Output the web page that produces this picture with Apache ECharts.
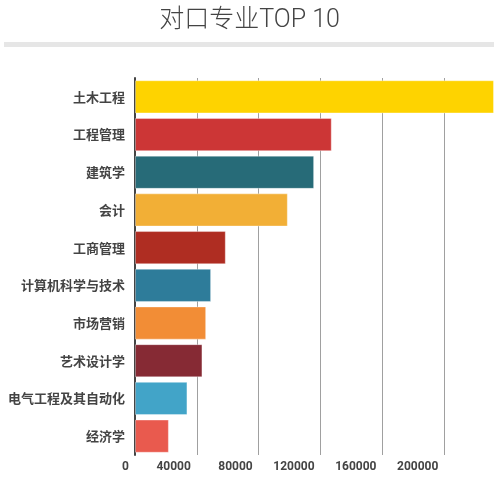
<!DOCTYPE html>
<html>
<head>
<meta charset="utf-8">
<title>对口专业TOP 10</title>
<script src="https://cdn.jsdelivr.net/npm/echarts@6/dist/echarts.min.js"></script>
<style>
  html, body { margin: 0; padding: 0; background: #fff; }
  #chart { width: 499px; height: 479px; }
</style>
</head>
<body>
<div id="chart"></div>
<script>
'use strict';

// 专业名称（从上到下）
var majors = ['土木工程', '工程管理', '建筑学', '会计', '工商管理',
  '计算机科学与技术', '市场营销', '艺术设计学', '电气工程及其自动化', '经济学'];
// 人数
var counts = [232100, 127200, 115800, 98800, 58700, 49200, 46000, 43600, 33900, 21900];
// 每个柱子的颜色
var barColors = ['#fed300', '#cc3636', '#276b78', '#f2af36', '#af2d22',
  '#2e7c9a', '#f28d36', '#862a34', '#42a4c8', '#e95a4e'];

var chart = echarts.init(document.getElementById('chart'));

var seriesData = counts.map(function (v, i) {
  return {
    value: v,
    itemStyle: { color: barColors[i] },
  };
});

chart.setOption({
  animation: false,
  title: {
    text: '对口专业TOP 10',
    left: 'center',
    top: 3,
    textStyle: {
      fontFamily: 'Roboto, "Noto Sans CJK SC"',
      fontSize: 25,
      fontWeight: 300,
      color: '#444',
    },
  },
  graphic: [{
    type: 'rect',
    shape: { x: 4, y: 42, width: 490, height: 5 },
    style: { fill: '#e6e6e6' },
    silent: true,
  }],
  grid: {
    left: 135,
    right: 5,
    top: 78,
    bottom: 24,
  },
  xAxis: {
    type: 'value',
    min: 0,
    max: 'dataMax',
    interval: 40000,
    axisLine: { show: false },
    axisTick: { show: false },
    splitLine: {
      showMaxLine: false,
      lineStyle: { color: '#a0a0a0', width: 1 },
    },
    axisLabel: {
      align: 'right',
      padding: [0, 6, 0, 0],
      margin: 6,
      fontFamily: 'Roboto, "Noto Sans CJK SC"',
      fontSize: 12,
      fontWeight: 'bold',
      color: '#444',
      showMaxLabel: false,
      formatter: function (v) { return String(v); },
    },
  },
  yAxis: {
    type: 'category',
    inverse: true,
    data: majors,
    axisLine: { show: true, lineStyle: { color: '#444', width: 2 } },
    axisTick: { show: false },
    axisLabel: {
      margin: 10,
      fontFamily: '"Noto Sans CJK SC", sans-serif',
      fontSize: 13,
      fontWeight: 'bold',
      color: '#444',
    },
  },
  series: [{
    type: 'bar',
    data: seriesData,
    barCategoryGap: '12%',
    itemStyle: {
      borderColor: 'rgba(255,255,255,0.35)',
      borderWidth: 1,
    },
  }],
});
</script>
</body>
</html>
